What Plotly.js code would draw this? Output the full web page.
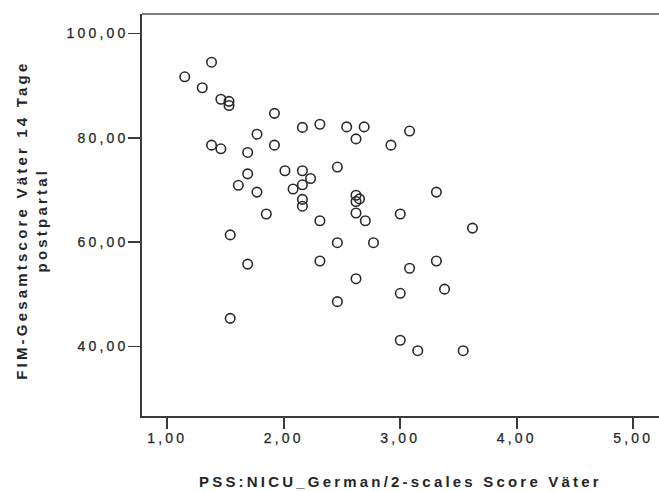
<!DOCTYPE html>
<html>
<head>
<meta charset="utf-8">
<script src="https://cdn.plot.ly/plotly-3.0.1.min.js"></script>
<style>
  html, body { margin: 0; padding: 0; background: #fff; }
  #chart { width: 659px; height: 491px; }
  .xtick text, .ytick text { letter-spacing: 3.2px; stroke: #262626; stroke-width: 0.25px; }
  text.annotation-text { letter-spacing: 3.2px; }
</style>
</head>
<body>
<div id="chart"></div>
<script>
// PSS:NICU_German/2-scales Score Väter
var pssScore = [1.15, 1.38, 1.30, 1.46, 1.53, 1.53, 1.92, 2.16, 2.31, 2.54, 2.69, 2.62, 3.08, 1.77, 1.38,
                1.46, 1.69, 1.92, 2.92, 2.46, 1.69, 2.01, 2.16, 2.23, 1.61, 2.08, 2.16, 1.77, 2.16, 2.16,
                2.62, 2.65, 2.62, 3.31, 1.85, 2.31, 2.62, 2.70, 3.00, 3.62, 1.54, 2.46, 2.77, 1.69, 2.31,
                3.31, 3.08, 2.62, 3.00, 3.38, 2.46, 1.54, 3.00, 3.15, 3.54];
// FIM-Gesamtscore Väter 14 Tage postpartal
var fimScore = [91.7, 94.5, 89.6, 87.4, 87.0, 86.2, 84.7, 82.0, 82.6, 82.1, 82.1, 79.8, 81.3, 80.7, 78.6,
                77.9, 77.2, 78.6, 78.6, 74.4, 73.1, 73.7, 73.7, 72.2, 70.9, 70.2, 71.0, 69.6, 68.2, 66.9,
                69.0, 68.3, 67.8, 69.6, 65.4, 64.1, 65.6, 64.1, 65.4, 62.7, 61.4, 59.9, 59.9, 55.8, 56.4,
                56.4, 55.0, 53.0, 50.2, 51.0, 48.6, 45.4, 41.2, 39.2, 39.2];

var xTicks = [1, 2, 3, 4, 5];
var yTicks = [40, 60, 80, 100];
var xTitle = 'PSS:NICU_German/2-scales Score Väter';
var yTitle = 'FIM-Gesamtscore Väter 14 Tage<br>postpartal';

var axisColor = '#3a3a3a';
var textColor = '#262626';
var fontFam = '"Liberation Sans", Arial, sans-serif';

var trace = {
  type: 'scatter',
  mode: 'markers',
  x: pssScore,
  y: fimScore,
  marker: {
    symbol: 'circle',
    size: 9.5,
    color: 'rgba(255,255,255,0)',
    line: { color: '#2a2a2a', width: 1.6 }
  },
  hoverinfo: 'x+y'
};

var layout = {
  width: 659,
  height: 491,
  margin: { l: 142, r: 0, t: 14, b: 75, pad: 0 },
  paper_bgcolor: '#ffffff',
  plot_bgcolor: '#ffffff',
  separators: ',.',
  showlegend: false,
  font: { family: fontFam, size: 14, color: textColor },
  xaxis: {
    range: [0.783, 5.221],
    tickvals: xTicks,
    tickformat: '.2f',
    ticks: 'outside',
    ticklen: 11,
    tickwidth: 1.6,
    tickcolor: axisColor,
    ticklabelstandoff: -2,
    showline: true,
    linecolor: axisColor,
    linewidth: 1.6,
    showgrid: false,
    zeroline: false,
    tickfont: { family: fontFam, size: 14, color: textColor }
  },
  yaxis: {
    range: [26.68, 103.74],
    tickvals: yTicks,
    tickformat: '.2f',
    ticks: 'outside',
    ticklen: 12,
    tickwidth: 1.6,
    tickcolor: axisColor,
    ticklabelstandoff: -3,
    showline: true,
    linecolor: axisColor,
    linewidth: 1.6,
    showgrid: false,
    zeroline: false,
    tickfont: { family: fontFam, size: 14, color: textColor }
  },
  shapes: [{
    type: 'line', xref: 'paper', yref: 'paper',
    x0: 0, x1: 1, y0: 1, y1: 1,
    line: { color: '#555555', width: 1.6 }
  }],
  annotations: [
    {
      text: xTitle, xref: 'paper', yref: 'paper',
      x: 0.50, y: -0.163, xanchor: 'center', yanchor: 'middle',
      showarrow: false,
      font: { family: fontFam, size: 15, color: textColor, weight: 'bold' }
    },
    {
      text: yTitle, xref: 'paper', yref: 'paper',
      x: -0.2128, y: 0.488, xanchor: 'center', yanchor: 'middle',
      textangle: -90, align: 'center',
      showarrow: false,
      font: { family: fontFam, size: 15, color: textColor, weight: 'bold' }
    }
  ]
};

Plotly.newPlot('chart', [trace], layout, { displayModeBar: false, staticPlot: true });
</script>
</body>
</html>
